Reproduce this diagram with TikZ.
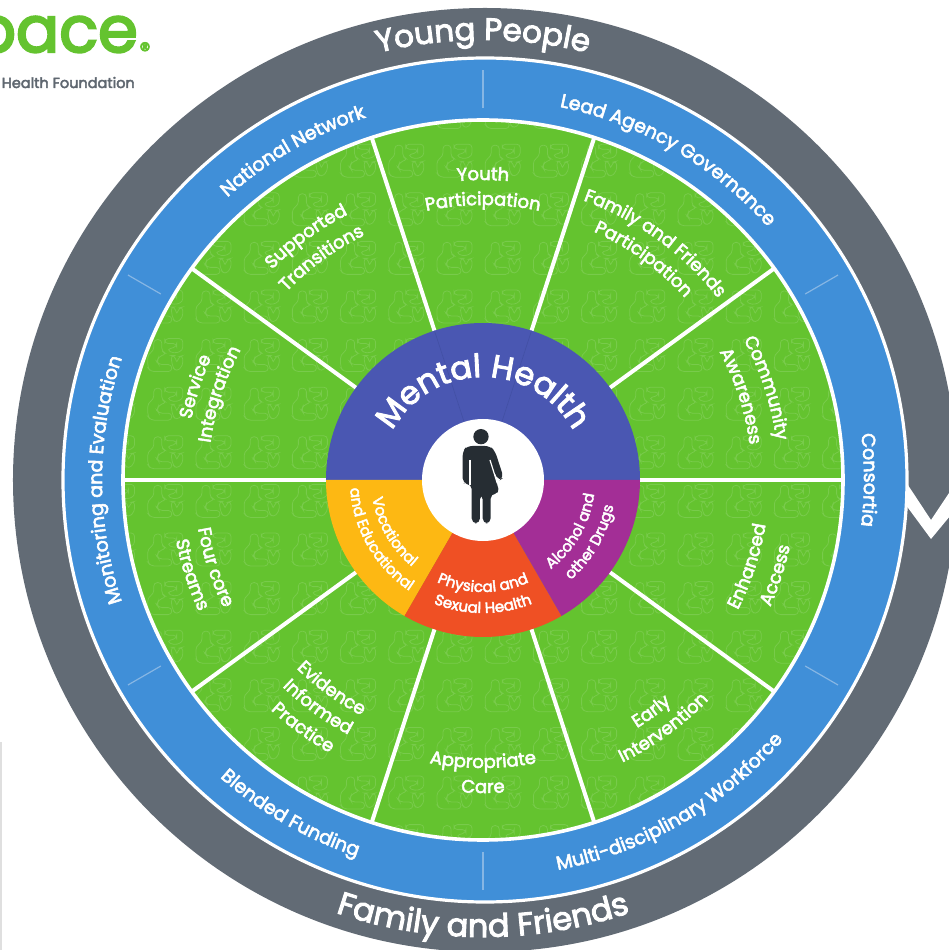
\documentclass[tikz,border=0pt]{standalone}
\usepackage{fontspec}
\usetikzlibrary{decorations.text}
\setmainfont{Poppins}
\newfontfamily\pp[FakeBold=3]{Poppins}
\newfontfamily\ppb[FakeBold=3.5]{Poppins}
\definecolor{ringgrey}{HTML}{626B75}
\definecolor{ringblue}{HTML}{408FD8}
\definecolor{tick}{HTML}{86B6E4}
\definecolor{leaf}{HTML}{64C32F}
\definecolor{leaflight}{HTML}{78CB4B}
\definecolor{indigo}{HTML}{4A57B2}
\definecolor{indigoline}{HTML}{4250A4}
\definecolor{amber}{HTML}{FDB813}
\definecolor{vermil}{HTML}{EF5024}
\definecolor{violet}{HTML}{A32E96}
\definecolor{figure}{HTML}{262D33}
\definecolor{logogrey}{HTML}{5F6770}
% clockwise arc text: radius, centre angle, half span, size, text
\newcommand\arcCW[5]{\path[decorate,decoration={text along path,text align=center,
  text={|\pp\fontsize{#4}{#4}\selectfont\color{white}|#5}}]
  ({#2+#3}:#1) arc[start angle={#2+#3},end angle={#2-#3},radius=#1];}
% counter-clockwise arc text
\newcommand\arcCCW[5]{\path[decorate,decoration={text along path,text align=center,
  text={|\pp\fontsize{#4}{#4}\selectfont\color{white}|#5}}]
  ({#2-#3}:#1) arc[start angle={#2-#3},end angle={#2+#3},radius=#1];}
\tikzset{
  spoke/.style={draw=white,line width=4pt},
  ticknote/.style={draw=tick,line width=1.2pt},
  tileline/.style={draw=leaflight,line width=0.8pt,rounded corners=3.5pt},
  logotext/.style={inner sep=0pt,anchor=base east},
}
\begin{document}
\begin{tikzpicture}[x=1pt,y=1pt]
\useasboundingbox (-483,-470) rectangle (466,480);
\fill[white] (-483,-470) rectangle (466,480);
% outer grey ring
\fill[ringgrey] (2,0) circle[radius=472];
% chevron
\begin{scope}[shift={(-483,480)},y=-1pt]
\fill[white] (900,473) -- (931,520) -- (955,484) -- (955,510) -- (931,539) -- (900,497) -- cycle;
\end{scope}
% blue ring
\filldraw[fill=ringblue,draw=white,line width=3.2pt] (2,0) circle[radius=422];
\foreach \a in {30,90,150,210,270,330}
  \draw[ticknote] (\a:372) -- (\a:410);
% green disc with pattern
\fill[leaf] (0,0) circle[radius=360];
\begin{scope}
\clip (0,0) circle[radius=360];
\begin{scope}[shift={(-483,480)},y=-1pt]
\foreach \i in {-12,...,5}
  \foreach \j in {-10,...,7} {
    \begin{scope}[shift={({677+48.2*\i},{532+48.6*\j})}]
    \draw[tileline] (7,2)--(15,2)--(15,14)--(20,16)--(12,19)--(10,24)--(12,27)--(25,27)--(25,34)--(4,34)--(1,30)--(1,17)--(7,13)--cycle;
    \draw[tileline] (18,1)--(36,1)--(36,13)--(27,16)--(20,12)--(30,9)--(30,6)--(18,6)--cycle;
    \draw[tileline] (24,18)--(28,18)--(30,26)--(32,19)--(36,18)--(36,28)--(30,34)--(26,30)--cycle;
    \end{scope}
  }
\end{scope}
\end{scope}
\draw[white,line width=3.6pt] (0,0) circle[radius=360];
\foreach \a in {0,36,72,108,144,180,216,252,288,324}
  \draw[spoke] (\a:150) -- (\a:359);
% central disc
\fill[indigo] (0,0) -- (0:157) arc[start angle=0,end angle=180,radius=157] -- cycle;
\fill[amber] (0,0) -- (180:157) arc[start angle=180,end angle=240,radius=157] -- cycle;
\fill[vermil] (0,0) -- (240:157) arc[start angle=240,end angle=300,radius=157] -- cycle;
\fill[violet] (0,0) -- (300:157) arc[start angle=300,end angle=360,radius=157] -- cycle;
\draw[indigoline,line width=0.6pt] (108:60) -- (108:157);
\draw[indigoline,line width=0.6pt] (72:60) -- (72:157);
\fill[white] (0,0) circle[radius=61];
% figure
\begin{scope}[shift={(-483,480)},y=-1pt]
\begin{scope}[shift={(440,415)},x=0.3333pt,y=-0.3333pt]
\fill[figure] (123,65) circle[radius=23];
\fill[figure,rounded corners=5pt] (68,205) -- (68,108) -- (82,93) -- (150,93) -- (165,108) -- (191,188) -- (176,198) -- (160,165) -- (179,236) -- (152,236) -- (152,325) -- (128,325) -- (128,238) -- (120,238) -- (120,325) -- (95,325) -- (95,207) -- (84,207) -- cycle;
\draw[white,line width=1.2pt] (90,135) -- (90,210);
\draw[white,line width=1.2pt] (150,135) -- (172,205);
\end{scope}
\end{scope}
% ring labels
\arcCW{440}{90}{25}{31}{Young People}
\arcCCW{457}{-90}{30}{32}{Family and Friends}
\arcCW{381}{120}{25}{19}{National Network}
\arcCW{381}{60}{30}{19}{Lead Agency Governance}
\arcCW{381}{0}{15}{19}{Consortia}
\arcCCW{397}{-60}{30}{19}{Multi-disciplinary Workforce}
\arcCCW{397}{240}{25}{19}{Blended Funding}
\arcCW{381}{180}{30}{19}{Monitoring and Evaluation}
% green sector labels
\arcCW{300}{90}{14}{18}{Youth}
\arcCW{275}{90}{18}{18}{Participation}
\arcCW{297}{54}{22}{18}{Family and Friends}
\arcCW{272}{54}{18}{18}{Participation}
\arcCW{296}{18}{18}{18}{Community}
\arcCW{269}{18}{18}{18}{Awareness}
\arcCCW{286}{-18}{18}{18}{Enhanced}
\arcCCW{314}{-18}{14}{18}{Access}
\arcCCW{292}{-54}{12}{18}{Early}
\arcCCW{315}{-54}{18}{18}{Intervention}
\arcCCW{288}{-90}{20}{18}{Appropriate}
\arcCCW{313}{-90}{10}{18}{Care}
\arcCCW{265}{234}{18}{18}{Evidence}
\arcCCW{288}{234}{18}{18}{Informed}
\arcCCW{313}{234}{14}{18}{Practice}
\arcCCW{289}{198}{18}{18}{Four core}
\arcCCW{313}{198}{14}{18}{Streams}
\arcCW{298}{162}{14}{18}{Service}
\arcCW{275}{162}{18}{18}{Integration}
\arcCW{298}{126}{18}{18}{Supported}
\arcCW{272}{126}{18}{18}{Transitions}
% central labels
\arcCW{103}{90}{85}{32}{Mental Health}
\arcCCW{112}{210}{30}{15}{Vocational}
\arcCCW{133}{210}{30}{15}{and Educational}
\arcCCW{112}{270}{30}{15}{Physical and}
\arcCCW{133}{270}{30}{15}{Sexual Health}
\arcCCW{112}{330}{30}{15}{Alcohol and}
\arcCCW{133}{330}{30}{15}{other Drugs}
% logo
\begin{scope}[shift={(-483,480)},y=-1pt]
\node[logotext,text=leaf,font=\ppb\fontsize{64}{64}\selectfont] (logo) at (138,52) {pace};
\node[inner sep=0pt,text=leaf,anchor=center,font=\pp\fontsize{22}{22}\selectfont] (reg) at (145,50) {®};
\node[logotext,text=logogrey,font=\pp\fontsize{14.5}{14.5}\selectfont] (found) at (135,88) {Health Foundation};
\fill[gray!25] (0,742) rectangle (2,950);
\end{scope}
\end{tikzpicture}
\end{document}
